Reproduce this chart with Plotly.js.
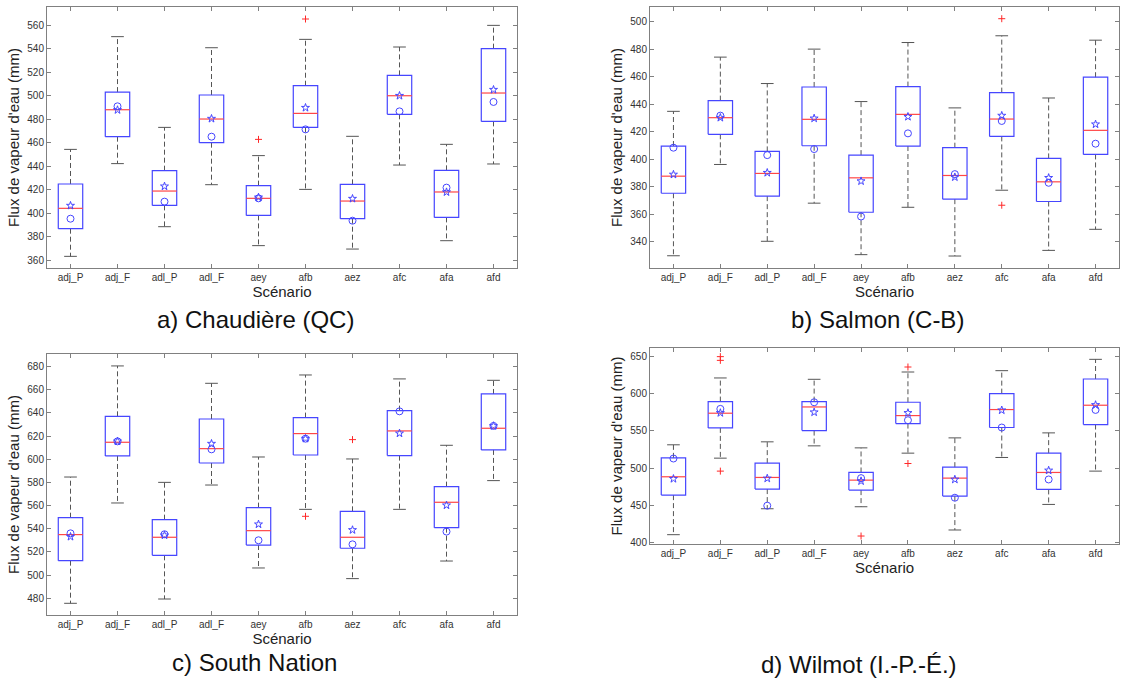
<!DOCTYPE html>
<html>
<head>
<meta charset="utf-8">
<script src="https://cdn.plot.ly/plotly-3.0.1.min.js"></script>
<style>html,body{margin:0;padding:0;background:#fff;}#chart{width:1122px;height:681px;}</style>
</head>
<body>
<div id="chart"></div>
<script>
const categories = ['adj_P','adj_F','adl_P','adl_F','aey','afb','aez','afc','afa','afd'];

// a) Chaudière (QC)
const aLow  = [363.4, 442.2, 388.6, 424.3, 372.5, 420.3, 369.6, 441.0, 376.7, 441.9];
const aQ1   = [386.9, 465.1, 406.7, 460.0, 398.2, 473.0, 395.4, 484.1, 396.5, 478.1];
const aMed  = [404.2, 488.0, 418.9, 480.1, 412.7, 484.9, 410.4, 499.9, 418.1, 502.2];
const aQ3   = [424.9, 503.0, 436.2, 500.5, 423.5, 508.4, 424.6, 517.2, 436.5, 539.9];
const aHigh = [454.3, 550.1, 473.0, 540.7, 449.0, 547.8, 465.4, 541.3, 458.6, 559.7];
const aStar = [406.5, 487.8, 422.9, 480.4, 413.5, 489.7, 412.4, 499.9, 418.0, 505.0];
const aCirc = [395.4, 490.9, 409.9, 465.1, 412.7, 471.3, 393.7, 486.6, 421.8, 494.6];
const aOutCat = ['aey', 'afb'];
const aOutVal = [462.8, 565.1];

// b) Salmon (C-B)
const bLow  = [330.0, 396.3, 340.5, 368.2, 330.8, 365.2, 329.8, 377.6, 333.9, 349.2];
const bQ1   = [375.4, 418.2, 373.3, 409.9, 361.6, 409.7, 371.1, 416.7, 369.4, 403.6];
const bMed  = [387.8, 430.3, 389.8, 429.1, 386.6, 432.7, 388.3, 429.3, 383.7, 421.1];
const bQ3   = [409.7, 442.7, 405.8, 452.6, 403.1, 452.9, 408.5, 448.5, 400.7, 459.7];
const bHigh = [434.9, 474.3, 455.1, 480.1, 442.0, 484.9, 437.4, 489.8, 444.6, 486.6];
const bStar = [389.0, 430.3, 390.3, 429.8, 384.2, 431.0, 387.1, 431.8, 386.6, 425.5];
const bCirc = [408.5, 431.8, 403.1, 407.5, 358.5, 418.9, 389.3, 427.9, 383.0, 411.4];
const bOutCat = ['afc', 'afc'];
const bOutVal = [502.2, 366.7];

// c) South Nation
const cLow  = [475.7, 562.3, 479.4, 577.8, 506.2, 556.8, 497.0, 556.8, 512.2, 581.6];
const cQ1   = [512.5, 602.9, 517.1, 596.8, 526.0, 603.7, 523.2, 603.2, 541.0, 608.1];
const cMed  = [535.0, 614.7, 532.7, 609.2, 538.4, 622.2, 532.7, 624.5, 562.9, 626.8];
const cQ3   = [549.6, 637.1, 547.9, 634.8, 558.3, 636.0, 555.1, 642.0, 576.4, 656.4];
const cHigh = [584.7, 680.6, 580.1, 665.6, 602.0, 672.8, 600.3, 669.4, 612.1, 668.2];
const cStar = [533.2, 615.5, 534.4, 613.5, 543.9, 617.8, 539.0, 622.4, 560.3, 628.8];
const cCirc = [536.1, 615.5, 535.3, 608.6, 530.1, 617.8, 526.6, 641.4, 537.6, 628.8];
const cOutCat = ['afb', 'aez'];
const cOutVal = [550.8, 617.0];

// d) Wilmot (I.-P.-É.)
const dLow  = [410.7, 513.4, 445.5, 529.9, 448.2, 520.1, 417.0, 514.3, 451.3, 496.0];
const dQ1   = [463.8, 554.0, 471.9, 550.4, 470.5, 559.8, 462.5, 554.5, 471.4, 558.5];
const dMed  = [488.4, 573.7, 487.5, 582.1, 483.9, 570.5, 486.6, 578.6, 494.2, 584.4];
const dQ3   = [513.8, 589.3, 506.7, 589.3, 494.2, 588.4, 501.3, 600.0, 520.1, 619.6];
const dHigh = [531.3, 621.0, 535.3, 619.2, 527.2, 629.0, 540.6, 630.8, 547.3, 646.0];
const dStar = [485.7, 574.1, 486.2, 575.0, 482.6, 574.1, 484.8, 577.7, 496.9, 584.8];
const dCirc = [512.9, 579.5, 449.6, 588.4, 486.6, 564.3, 460.3, 554.5, 484.8, 578.1];
const dOutCat = ['adj_F', 'adj_F', 'adj_F', 'aey', 'afb', 'afb'];
const dOutVal = [649.6, 644.6, 496.0, 408.9, 635.7, 506.2];

const captions = ['a) Chaudière (QC)', 'b) Salmon (C-B)', 'c) South Nation', 'd) Wilmot (I.-P.-É.)'];
const yTitle = "Flux de vapeur d'eau (mm)";
const xTitle = 'Scénario';

const panels = [
  {low:aLow, q1:aQ1, med:aMed, q3:aQ3, high:aHigh, star:aStar, circ:aCirc, outCat:aOutCat, outVal:aOutVal, xa:'x',  ya:'y'},
  {low:bLow, q1:bQ1, med:bMed, q3:bQ3, high:bHigh, star:bStar, circ:bCirc, outCat:bOutCat, outVal:bOutVal, xa:'x2', ya:'y2'},
  {low:cLow, q1:cQ1, med:cMed, q3:cQ3, high:cHigh, star:cStar, circ:cCirc, outCat:cOutCat, outVal:cOutVal, xa:'x3', ya:'y3'},
  {low:dLow, q1:dQ1, med:dMed, q3:dQ3, high:dHigh, star:dStar, circ:dCirc, outCat:dOutCat, outVal:dOutVal, xa:'x4', ya:'y4'}
];

const BOX = 'rgb(70,70,255)', MED = 'rgb(255,70,70)', WHISK = '#555555', OUT = 'rgb(255,40,40)';
const HW = 0.26, CW = 0.135;

const traces = [];
panels.forEach(p => {
  const bx=[], by=[], mx=[], my=[], wx=[], wy=[], cx=[], cy=[], xs=[];
  categories.forEach((c, i) => {
    const x = i + 1; xs.push(x);
    bx.push(x-HW, x+HW, x+HW, x-HW, x-HW, null);
    by.push(p.q1[i], p.q1[i], p.q3[i], p.q3[i], p.q1[i], null);
    mx.push(x-HW, x+HW, null); my.push(p.med[i], p.med[i], null);
    wx.push(x, x, null, x, x, null);
    wy.push(p.q3[i], p.high[i], null, p.q1[i], p.low[i], null);
    cx.push(x-CW, x+CW, null, x-CW, x+CW, null);
    cy.push(p.high[i], p.high[i], null, p.low[i], p.low[i], null);
  });
  const common = {xaxis:p.xa, yaxis:p.ya, hoverinfo:'skip', showlegend:false};
  traces.push(Object.assign({type:'scatter', mode:'lines', x:wx, y:wy, line:{color:WHISK, width:1, dash:'5px,3px'}}, common));
  traces.push(Object.assign({type:'scatter', mode:'lines', x:cx, y:cy, line:{color:WHISK, width:1}}, common));
  traces.push(Object.assign({type:'scatter', mode:'lines', x:bx, y:by, line:{color:BOX, width:1.2}}, common));
  traces.push(Object.assign({type:'scatter', mode:'lines', x:mx, y:my, line:{color:MED, width:1.2}}, common));
  traces.push(Object.assign({type:'scatter', mode:'markers', x:p.outCat.map(c => categories.indexOf(c) + 1), y:p.outVal,
    marker:{symbol:'cross-thin-open', size:5, color:OUT, line:{color:OUT, width:1}}}, common));
  traces.push(Object.assign({type:'scatter', mode:'markers', x:xs, y:p.circ,
    marker:{symbol:'circle-open', size:7, color:BOX, line:{color:BOX, width:1}}}, common));
  traces.push(Object.assign({type:'scatter', mode:'markers', x:xs, y:p.star,
    marker:{symbol:'star-open', size:6, color:BOX, line:{color:BOX, width:1}}}, common));
});

const W = 1122, H = 681;
const AX = '#808080';
function xAxis(px0, px1, anchor) {
  return {domain:[px0/W, px1/W], anchor:anchor, range:[0.5, 10.5],
    tickmode:'array', tickvals:categories.map((c,i)=>i+1), ticktext:categories,
    ticks:'inside', ticklen:4, tickcolor:AX, showline:true, linecolor:AX, linewidth:1, mirror:'ticks',
    showgrid:false, zeroline:false, tickfont:{size:10, color:'#333'},
    title:{text:xTitle, font:{size:15, color:'#222'}, standoff:1}};
}
function yAxis(top, bottom, anchor, range, dtick) {
  return {domain:[1-bottom/H, 1-top/H], anchor:anchor, range:range, dtick:dtick, tick0:0,
    ticks:'inside', ticklen:4, tickcolor:AX, showline:true, linecolor:AX, linewidth:1, mirror:'ticks',
    showgrid:false, zeroline:false, tickfont:{size:10, color:'#333'},
    title:{text:yTitle, font:{size:15, color:'#222'}, standoff:4}};
}

const layout = {
  width:W, height:H, margin:{l:0, r:0, t:0, b:0},
  paper_bgcolor:'#fff', plot_bgcolor:'#fff', showlegend:false,
  font:{family:'Liberation Sans, Arial, sans-serif', color:'#222'},
  xaxis:  xAxis(47, 517, 'y'),
  yaxis:  yAxis(7, 268, 'x', [353.5, 575.3], 20),
  xaxis2: xAxis(650, 1119, 'y2'),
  yaxis2: yAxis(7, 268, 'x2', [321.1, 510.7], 20),
  xaxis3: xAxis(47, 517, 'y3'),
  yaxis3: yAxis(354, 615, 'x3', [465.6, 690.9], 20),
  xaxis4: xAxis(650, 1119, 'y4'),
  yaxis4: yAxis(348, 544, 'x4', [398.2, 661.2], 50),
  annotations: [
    {text:captions[0], x:256/W, y:1-319/H},
    {text:captions[1], x:878/W, y:1-319/H},
    {text:captions[2], x:254/W, y:1-662/H},
    {text:captions[3], x:859/W, y:1-664/H}
  ].map(a => Object.assign({xref:'paper', yref:'paper', xanchor:'center', yanchor:'middle', showarrow:false,
    font:{size:24, color:'#111'}}, a))
};

Plotly.newPlot('chart', traces, layout, {displayModeBar:false, staticPlot:true});
</script>
</body>
</html>
